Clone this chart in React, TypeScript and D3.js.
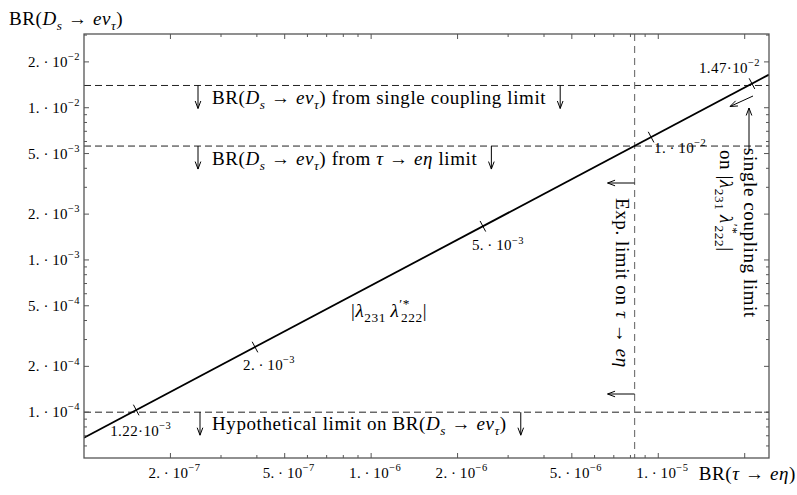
import React, { useRef, useEffect } from 'react';
import * as d3 from 'd3';

const WIDTH = 797;
const HEIGHT = 495;
const FONT = "'Liberation Serif', 'DejaVu Serif', serif";

// axis ranges
const xDomain = [1e-7, 2.43e-5];
const yDomain = [5e-5, 3.05e-2];

// labelled ticks (mantissa 1, 2, 5)
const xLabelled = [2e-7, 5e-7, 1e-6, 2e-6, 5e-6, 1e-5];
const yLabelled = [1e-4, 2e-4, 5e-4, 1e-3, 2e-3, 5e-3, 1e-2, 2e-2];

// the coupling line: BR(tau -> e eta) vs BR(Ds -> e nu_tau)
const curveTau = [1e-7, 2.43e-5];
const curveDs = [6.8e-5, 1.65e-2];

// |λ231 λ'*222| values marked on the line
const couplingMant = ['1.22', '2.', '5.', '1.', '1.47'];
const couplingExp = [-3, -3, -3, -2, -2];
const couplingTau = [1.52e-7, 3.94e-7, 2.45e-6, 9.44e-6, 2.12e-5];

// horizontal limits on BR(Ds -> e nu_tau)
const dsLimits = [1.4e-2, 5.6e-3, 1e-4];
// experimental limit on BR(tau -> e eta)
const tauEtaLimit = 8.27e-6;

type Seg = { t: string; it?: boolean; sub?: boolean; sup?: boolean; dx?: number };

const BR_DS: Seg[] = [
  { t: 'BR(' },
  { t: 'D', it: true },
  { t: 's', it: true, sub: true },
  { t: ' → ' },
  { t: 'eν', it: true },
  { t: 'τ', it: true, sub: true },
  { t: ')' },
];

const LAMBDA: Seg[] = [
  { t: '|' },
  { t: 'λ', it: true },
  { t: '231', sub: true },
  { t: '\u2009λ', it: true },
  { t: '′*', sup: true },
  { t: '222', sub: true, dx: -9 },
  { t: '|' },
];

const BIG = 19;
const SMALL = 15;

const rich = (text, segs: Seg[], size: number) => {
  let shift = 0;
  text.attr('letter-spacing', size > 16 ? 0.6 : 0.4);
  segs.forEach(s => {
    const target = s.sub ? size * 0.28 : s.sup ? -size * 0.45 : 0;
    const ts = text
      .append('tspan')
      .text(s.t)
      .attr('dy', target - shift)
      .attr('font-size', s.sub || s.sup ? size * 0.7 : size)
      .attr('font-style', s.it ? 'italic' : 'normal');
    if (s.dx) ts.attr('dx', s.dx);
    shift = target;
  });
  return text;
};

const sciLabel = (mant: string, exp: number, tight = false): Seg[] => [
  { t: mant + (tight ? '·10' : '\u2009·\u200910') },
  { t: '−' + Math.abs(exp), sup: true },
];

const decade = (v: number) => Math.floor(Math.log10(v) + 1e-9);
const mantOf = (v: number) => Math.round(v / Math.pow(10, decade(v)));

const arrow = (g, x1, y1, x2, y2, head = 8, color = '#000') => {
  g.append('line')
    .attr('x1', x1).attr('y1', y1).attr('x2', x2).attr('y2', y2)
    .attr('stroke', color).attr('stroke-width', 1);
  const ang = Math.atan2(y2 - y1, x2 - x1);
  const a1 = ang + Math.PI - 0.36;
  const a2 = ang + Math.PI + 0.36;
  g.append('path')
    .attr('d', `M${x2 + head * Math.cos(a1)},${y2 + head * Math.sin(a1)}L${x2},${y2}L${x2 + head * Math.cos(a2)},${y2 + head * Math.sin(a2)}`)
    .attr('fill', 'none').attr('stroke', color).attr('stroke-width', 1);
};

const App = () => {
  const ref = useRef(null);

  useEffect(() => {
    const svg = d3.select(ref.current);
    svg.selectAll('*').remove();

    const left = 84, right = 769, top = 34, bottom = 458;
    const x = d3.scaleLog().domain(xDomain).range([left, right]);
    const y = d3.scaleLog().domain(yDomain).range([bottom, top]);

    svg.append('defs').append('clipPath').attr('id', 'plot')
      .append('rect').attr('x', left).attr('y', top)
      .attr('width', right - left).attr('height', bottom - top);

    const g = svg.append('g').attr('font-family', FONT).style('white-space', 'pre');

    // dashed limits
    g.selectAll('line.hlim').data(dsLimits).enter().append('line')
      .attr('x1', left).attr('x2', right)
      .attr('y1', d => y(d)).attr('y2', d => y(d))
      .attr('stroke', '#222').attr('stroke-width', 1)
      .attr('stroke-dasharray', '7,4');
    g.append('line')
      .attr('x1', x(tauEtaLimit)).attr('x2', x(tauEtaLimit))
      .attr('y1', top).attr('y2', bottom)
      .attr('stroke', '#777').attr('stroke-width', 1.2)
      .attr('stroke-dasharray', '7,5');

    // the coupling line
    const line = d3.line<number>().x((d, i) => x(curveTau[i])).y(d => y(d));
    g.append('path').attr('d', line(curveDs)).attr('clip-path', 'url(#plot)')
      .attr('fill', 'none').attr('stroke', '#000').attr('stroke-width', 1.8);

    // marks on the line (straight in log-log, so pixel y is log-linear in tau)
    const yOnLine = d3.scaleLog().domain(curveTau).range([y(curveDs[0]), y(curveDs[1])]);
    const dirX = x(curveTau[1]) - x(curveTau[0]);
    const dirY = y(curveDs[1]) - y(curveDs[0]);
    const len = Math.hypot(dirX, dirY);
    const px = -dirY / len, py = dirX / len;
    const offsets = [[-26, 26, 'start'], [-12, 23, 'start'], [-11, 24, 'start'], [3, 16, 'start'], [8, -11, 'end']];
    couplingTau.forEach((t, i) => {
      const cx = x(t), cy = yOnLine(t);
      g.append('line')
        .attr('x1', cx - px * 6).attr('y1', cy - py * 6)
        .attr('x2', cx + px * 6).attr('y2', cy + py * 6)
        .attr('stroke', '#000').attr('stroke-width', 1);
      const [ox, oy, anchor] = offsets[i];
      rich(
        g.append('text').attr('x', cx + (ox as number)).attr('y', cy + (oy as number)).attr('text-anchor', anchor),
        sciLabel(couplingMant[i], couplingExp[i], couplingMant[i].length > 2),
        SMALL
      );
    });

    // frame
    g.append('rect').attr('x', left).attr('y', top)
      .attr('width', right - left).attr('height', bottom - top)
      .attr('fill', 'none').attr('stroke', '#555').attr('stroke-width', 1.3);

    const isMajor = v => [1, 2, 5].includes(mantOf(v));
    const axisColor = '#555';
    x.ticks().forEach(v => {
      const l = isMajor(v) ? 5 : 3;
      const xx = x(v);
      if (xx <= left + 1 || xx >= right - 1) return;
      g.append('line').attr('x1', xx).attr('x2', xx).attr('y1', bottom).attr('y2', bottom - l)
        .attr('stroke', axisColor).attr('stroke-width', 1);
      g.append('line').attr('x1', xx).attr('x2', xx).attr('y1', top).attr('y2', top + l)
        .attr('stroke', axisColor).attr('stroke-width', 1);
    });
    y.ticks().forEach(v => {
      const l = isMajor(v) ? 5 : 3;
      const yy = y(v);
      if (yy >= bottom - 1 || yy <= top + 1) return;
      g.append('line').attr('y1', yy).attr('y2', yy).attr('x1', left).attr('x2', left + l)
        .attr('stroke', axisColor).attr('stroke-width', 1);
      g.append('line').attr('y1', yy).attr('y2', yy).attr('x1', right).attr('x2', right - l)
        .attr('stroke', axisColor).attr('stroke-width', 1);
    });

    xLabelled.forEach(v => {
      rich(
        g.append('text').attr('x', x(v) + 4).attr('y', 478).attr('text-anchor', 'middle'),
        sciLabel(mantOf(v) + '.', decade(v)),
        SMALL
      );
    });
    yLabelled.forEach(v => {
      rich(
        g.append('text').attr('x', 80).attr('y', y(v) + 5).attr('text-anchor', 'end'),
        sciLabel(mantOf(v) + '.', decade(v)),
        SMALL
      );
    });

    // axis titles
    rich(g.append('text').attr('x', 9).attr('y', 25), BR_DS, BIG);
    rich(
      g.append('text').attr('x', 796).attr('y', 480).attr('text-anchor', 'end'),
      [{ t: 'BR(' }, { t: 'τ', it: true }, { t: ' → ' }, { t: 'eη', it: true }, { t: ')' }],
      BIG
    );

    // horizontal limit annotations
    const rows = [
      { arrowX: 198, textX: 212, base: 104, tail: [{ t: ' from single coupling limit' }] },
      { arrowX: 198, textX: 212, base: 165, tail: [{ t: ' from ' }, { t: 'τ', it: true }, { t: ' → ' }, { t: 'eη', it: true }, { t: ' limit' }] },
      { arrowX: 200, textX: 212, base: 430, tail: null },
    ];
    rows.forEach((r, i) => {
      const yl = y(dsLimits[i]);
      arrow(g, r.arrowX, yl, r.arrowX, yl + 23);
      const segs = r.tail ? [...BR_DS, ...r.tail] : [{ t: 'Hypothetical limit on ' }, ...BR_DS];
      const t = rich(g.append('text').attr('x', r.textX).attr('y', r.base), segs as Seg[], BIG);
      const w = (t.node() as SVGTextElement).getComputedTextLength();
      const ax = r.textX + w + 14;
      arrow(g, ax, yl, ax, yl + 23);
    });

    // experimental limit on tau -> e eta (vertical)
    const xl = x(tauEtaLimit);
    arrow(g, xl, 183, xl - 27, 183);
    arrow(g, xl, 394, xl - 27, 394);
    rich(
      g.append('text').attr('transform', `translate(616,198) rotate(90)`),
      [{ t: 'Exp. limit on ' }, { t: 'τ', it: true }, { t: ' → ' }, { t: 'eη', it: true }],
      BIG
    );

    // single coupling limit (right)
    arrow(g, 749, 150, 749, 108);
    arrow(g, 753, 96, 730, 106.5);
    rich(g.append('text').attr('transform', `translate(744,148) rotate(90)`), [{ t: 'single coupling limit' }], BIG);
    rich(
      g.append('text').attr('transform', `translate(720,150) rotate(90)`),
      [{ t: 'on ' }, ...LAMBDA],
      BIG
    );

    // curve label
    rich(g.append('text').attr('x', 351).attr('y', 317), LAMBDA, BIG);
  }, []);

  return (
    <svg
      ref={ref}
      width={WIDTH}
      height={HEIGHT}
      style={{ position: 'absolute', left: 0, top: 0, background: '#fff' }}
    />
  );
};

export default App;
